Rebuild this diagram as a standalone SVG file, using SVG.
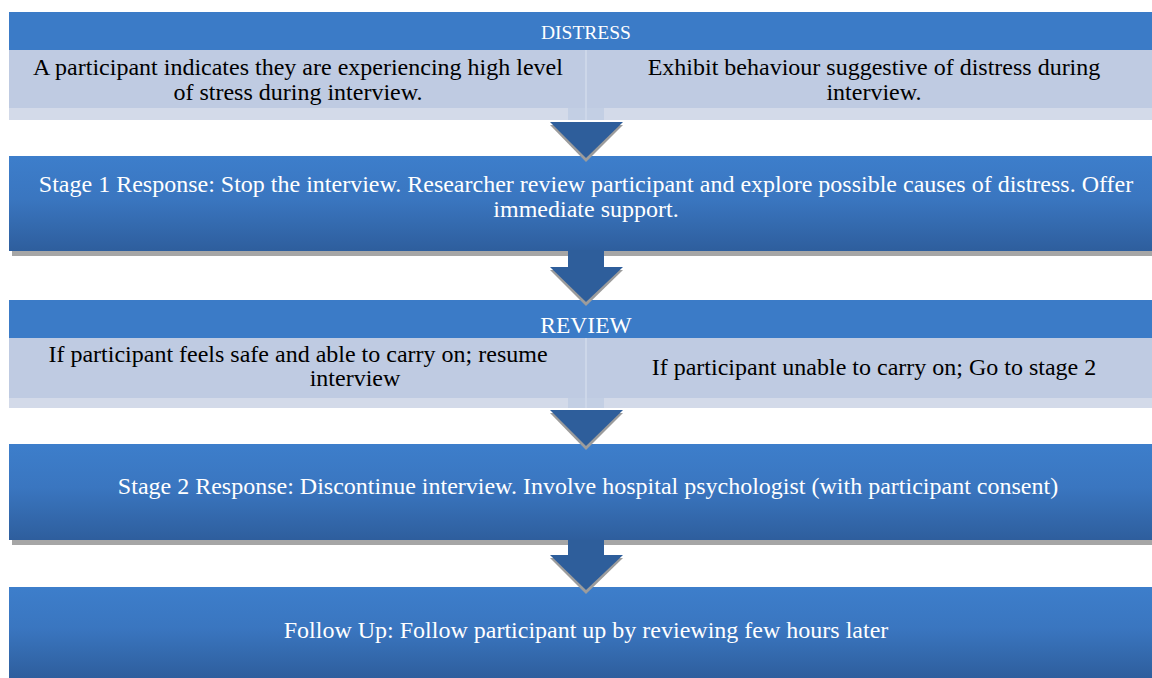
<svg xmlns="http://www.w3.org/2000/svg" width="1152" height="678" viewBox="0 0 1152 678">
<defs>
<linearGradient id="boxGrad" x1="0" y1="0" x2="0" y2="1">
<stop offset="0" stop-color="#3d7ecb"/>
<stop offset="0.45" stop-color="#3a76c0"/>
<stop offset="1" stop-color="#2e5e9d"/>
</linearGradient>
<style>
.hdr{fill:#3b7bc7}
.sub{fill:#bfcbe2}
.strip{fill:#d3dae9}
.box{fill:url(#boxGrad)}
.shadow{fill:#a6a6a6}
.arrow{fill:#2e5e9b}
.ashadow{fill:#9c9c9c}
.faint{fill:#c3cfe4}
.div{stroke:#cdd7e9;stroke-width:2}
.wt{font-family:"Liberation Serif","Times New Roman",serif;fill:#ffffff;text-anchor:middle}
.bt{font-family:"Liberation Serif","Times New Roman",serif;fill:#000000;text-anchor:middle}
</style>
</defs>

<g id="distress">
<rect class="hdr" x="9" y="12" width="1143" height="38"/>
<rect class="sub" x="9" y="50" width="1143" height="58"/>
<rect class="strip" x="9" y="108" width="1143" height="12"/>
<rect class="faint" x="568" y="108" width="36" height="12"/>
<line class="div" x1="586" y1="50" x2="586" y2="120"/>
<text class="wt" x="586" y="39" font-size="19.5">DISTRESS</text>
<text class="bt" x="298" y="75" font-size="24">A participant indicates they are experiencing high level</text>
<text class="bt" x="298" y="100" font-size="24">of stress during interview.</text>
<text class="bt" x="874" y="75" font-size="24">Exhibit behaviour suggestive of distress during</text>
<text class="bt" x="874" y="100" font-size="24">interview.</text>
</g>

<g id="stage1">
<rect class="shadow" x="12" y="251" width="1140" height="5"/>
<rect class="box" x="9" y="156" width="1143" height="95"/>
<text class="wt" x="586" y="192" font-size="24">Stage 1 Response: Stop the interview. Researcher review participant and explore possible causes of distress. Offer</text>
<text class="wt" x="586" y="217" font-size="24">immediate support.</text>
</g>

<g id="review">
<rect class="hdr" x="9" y="300" width="1143" height="38"/>
<rect class="sub" x="9" y="338" width="1143" height="60"/>
<rect class="strip" x="9" y="398" width="1143" height="10"/>
<rect class="faint" x="568" y="398" width="36" height="10"/>
<line class="div" x1="586" y1="338" x2="586" y2="408"/>
<text class="wt" x="586" y="333" font-size="23.5">REVIEW</text>
<text class="bt" x="298" y="362" font-size="24">If participant feels safe and able to carry on; resume</text>
<text class="bt" x="355" y="386" font-size="24">interview</text>
<text class="bt" x="874" y="375" font-size="24">If participant unable to carry on; Go to stage 2</text>
</g>

<g id="stage2">
<rect class="shadow" x="12" y="540" width="1140" height="5"/>
<rect class="box" x="9" y="444" width="1143" height="96"/>
<text class="wt" x="588" y="494" font-size="24">Stage 2 Response: Discontinue interview. Involve hospital psychologist (with participant consent)</text>
</g>

<g id="followup">
<rect class="box" x="9" y="587" width="1143" height="91"/>
<text class="wt" x="586" y="638" font-size="24">Follow Up: Follow participant up by reviewing few hours later</text>
</g>

<g id="connectors">
<polygon class="ashadow" points="550,125 623,125 586,162"/>
<polygon class="arrow" points="550,122 623,122 586,158"/>
<rect class="arrow" x="568" y="250" width="36" height="18"/>
<polygon class="ashadow" points="550,270 623,270 586,306"/>
<polygon class="arrow" points="550,267 623,267 586,302"/>
<polygon class="ashadow" points="550,413 623,413 586,450"/>
<polygon class="arrow" points="550,410 623,410 586,446"/>
<rect class="arrow" x="568" y="540" width="36" height="16"/>
<polygon class="ashadow" points="550,558 623,558 586,594"/>
<polygon class="arrow" points="550,555 623,555 586,590"/>
</g>
</svg>
